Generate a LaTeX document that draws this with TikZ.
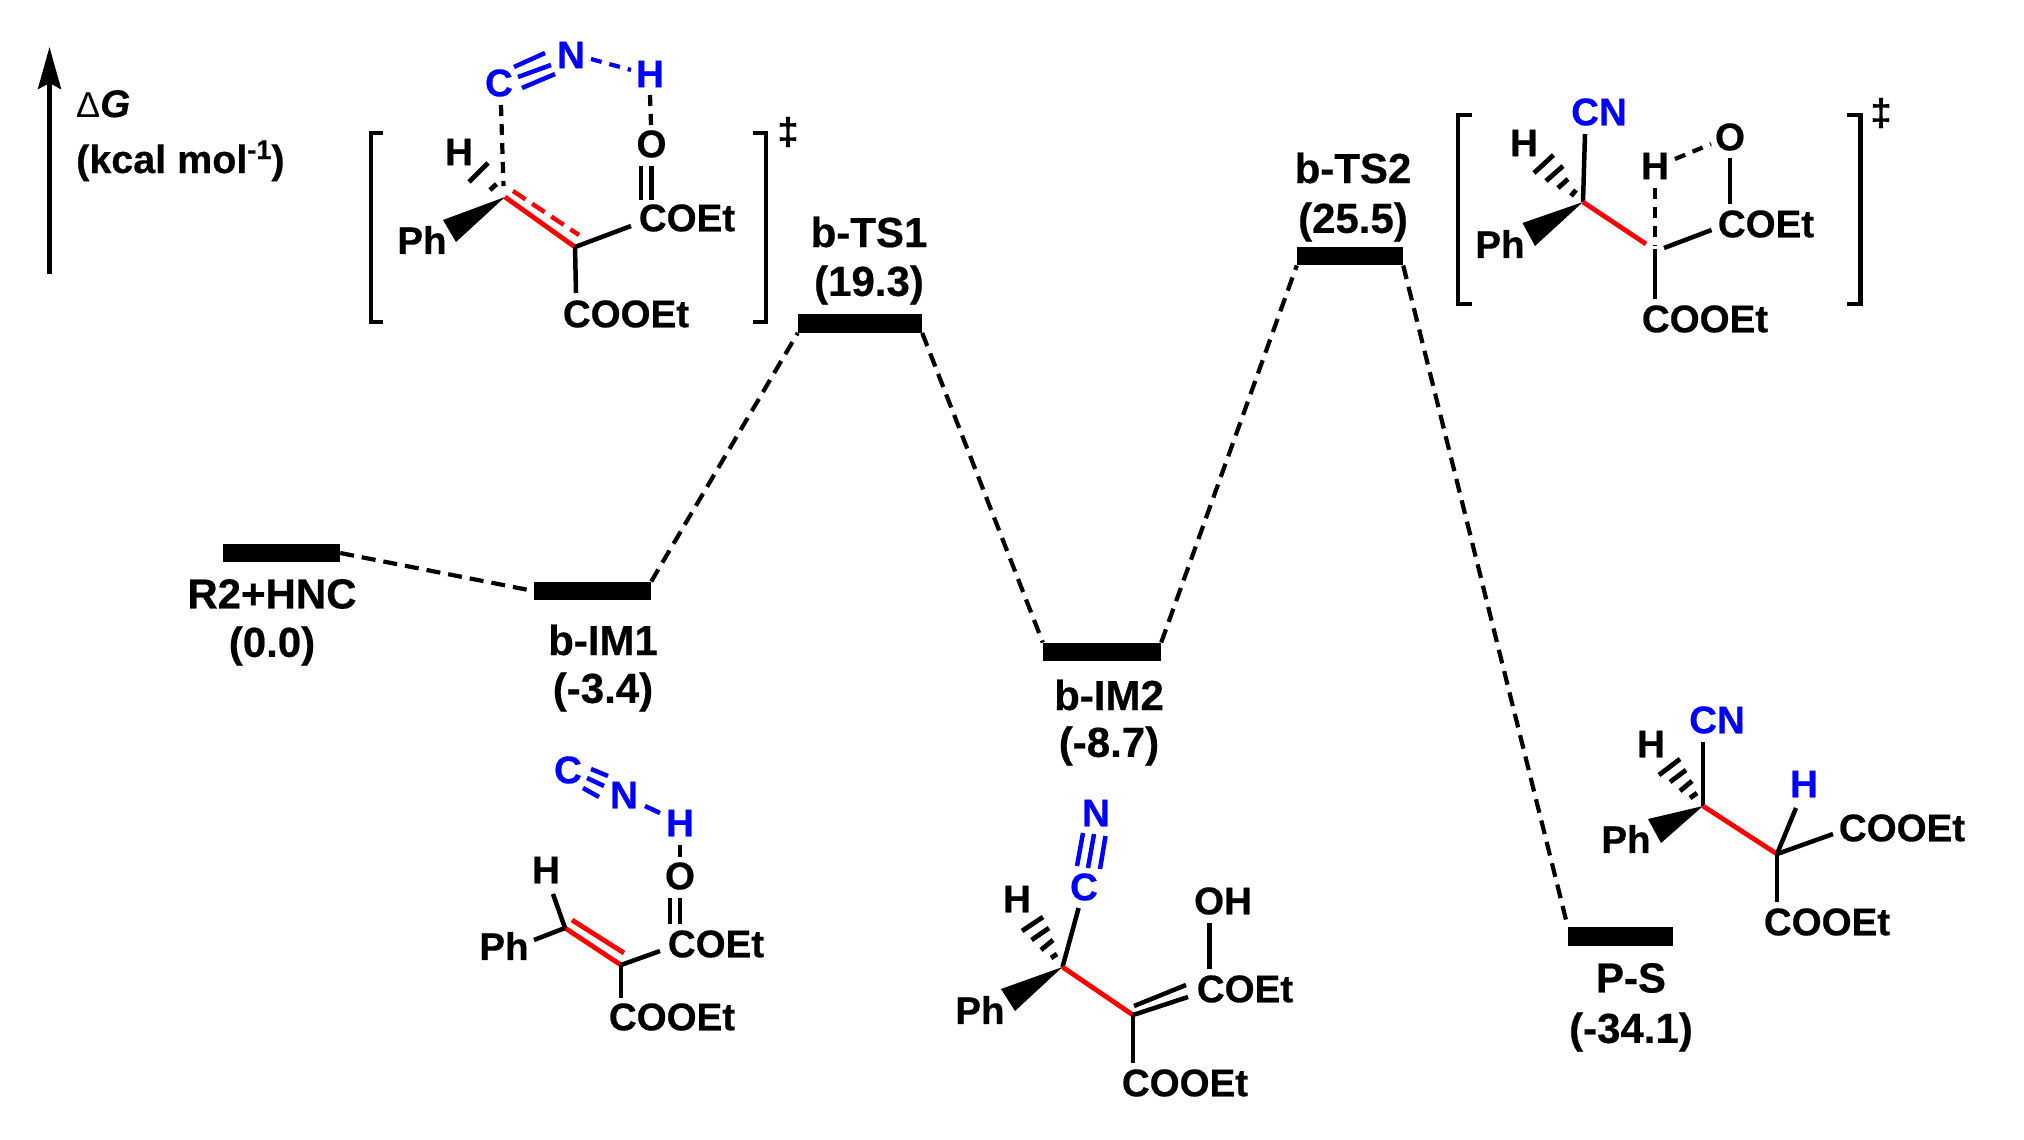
\documentclass[tikz,border=0pt]{standalone}
\usepackage{fontspec}
\setmainfont{Liberation Sans}[BoldFeatures={FakeBold=0.5},BoldItalicFeatures={FakeBold=0.5}]
\usetikzlibrary{arrows.meta}
\definecolor{cblue}{RGB}{0,0,255}
\definecolor{cred}{RGB}{255,0,0}
\tikzset{
  atom/.style={inner sep=0pt,font=\fontsize{38.5}{38.5}\selectfont\bfseries,text=black},
  blueatom/.style={atom,text=cblue},
  elabel/.style={inner sep=0pt,font=\fontsize{42}{42}\selectfont\bfseries,text=black},
  level/.style={fill=black,inner sep=0pt,minimum width=#1,minimum height=18.5pt},
  path/.style={line width=4.2pt,dash pattern=on 14pt off 8pt},
  bond/.style={line width=4.5pt,black},
  redbond/.style={line width=4.8pt,cred},
  bluebond/.style={line width=4.5pt,cblue},
  hb/.style={line width=4.2pt,black,dash pattern=on 11pt off 8pt},
  hbblue/.style={line width=4.2pt,cblue,dash pattern=on 11pt off 8pt},
  brk/.style={line width=4.8pt,black,line cap=butt,line join=miter},
  hashbond/.style={line width=4.8pt,black},
  dag/.style={inner sep=0pt,font=\fontsize{38}{38}\selectfont\bfseries,text=black}
}
\begin{document}
\begin{tikzpicture}[x=1pt,y=-1pt]
\useasboundingbox (0,0) rectangle (2024,1140);

% axis
\coordinate (axb) at (49.5,274);
\coordinate (axt) at (49.5,47);
\draw[line width=4.6pt,-{Stealth[length=42pt,width=23pt,inset=6pt]}] (axb) -- (axt);
\node[atom,anchor=base west] (dg) at (76,117) {{\mdseries\fontsize{36}{36}\selectfont Δ}{\itshape G}};
\node[atom,anchor=base west,font=\fontsize{39.5}{39.5}\selectfont\bfseries] (unit) at (76,173) {(kcal mol\raisebox{14pt}{\fontsize{27}{27}\selectfont -1})};

% levels
\node[level=117pt] (r2) at (281.5,553) {};
\node[level=117pt] (im1) at (592.5,591) {};
\node[level=124pt] (ts1) at (860,323.5) {};
\node[level=118pt] (im2) at (1102,652) {};
\node[level=106pt] (ts2) at (1350,256) {};
\node[level=105pt] (ps) at (1620.5,936.5) {};

\draw[path] (r2.east) -- (im1.west);
\draw[path] (im1.north east) -- (ts1.south west);
\draw[path] (ts1.south east) -- (im2.north west);
\draw[path] (im2.north east) -- (ts2.south west);
\draw[path] (ts2.south east) -- (ps.north west);

% level labels
\node[elabel] (r2a) at (272,594) {R2+HNC};
\node[elabel] (r2b) at (272,646) {(0.0)};
\node[elabel] (im1a) at (603,640) {b-IM1};
\node[elabel] (im1b) at (603,692) {(-3.4)};
\node[elabel] (ts1a) at (869,232) {b-TS1};
\node[elabel] (ts1b) at (869,285) {(19.3)};
\node[elabel] (im2a) at (1109,695) {b-IM2};
\node[elabel] (im2b) at (1109,746) {(-8.7)};
\node[elabel] (ts2a) at (1353,168) {b-TS2};
\node[elabel] (ts2b) at (1353,222) {(25.5)};
\node[elabel] (psa) at (1631,978) {P-S};
\node[elabel] (psb) at (1631,1032) {(-34.1)};

% ---------- TS1 structure
\node[blueatom] (ac) at (499,83) {C};
\node[blueatom] (an) at (571,55) {N};
\node[blueatom] (ah) at (650,74) {H};
\node[atom] (ao) at (651.5,144) {O};
\node[atom] (acoet) at (687,218) {COEt};
\node[atom] (acooet) at (626,314) {COOEt};
\node[atom] (aph) at (422,240) {Ph};
\node[atom] (ahh) at (459,152) {H};
\node[dag] (adag) at (788,132) {‡};
\coordinate (a1) at (505,197);
\coordinate (a2) at (575,247);
\draw[bluebond] (514,67) -- (545,53) (518,77) -- (551,65) (522,88) -- (555,74);
\draw[hbblue] (591,59) -- (631,70);
\draw[hb] (650,95) -- (651,125);
\draw[bond] (641,166) -- (641,200) (651.5,166) -- (651.5,200);
\draw[hb] (501,105) -- (503.5,186);
\draw[redbond] (a1) -- (a2);
\draw[cred,line width=4.4pt,dash pattern=on 15pt off 8pt] (513,191) -- (579,235);
\draw[bond] (a2) -- (631,226);
\draw[bond] (a2) -- (576,293);
\fill[black] (a1) -- (443,220) -- (456,242) -- cycle;
\draw[hashbond] (488,163) -- (469,182) (496.5,184) -- (490,190);
\draw[brk] (383,133) -- (371,133) -- (371,322) -- (383,322);
\draw[brk] (753,133) -- (766,133) -- (766,322) -- (753,322);

% ---------- TS2 structure
\node[blueatom] (bcn) at (1599,112) {CN};
\node[atom] (bh) at (1524,143) {H};
\node[atom] (bph) at (1500,244) {Ph};
\node[atom] (bh2) at (1655,166) {H};
\node[atom] (bo) at (1730,137) {O};
\node[atom] (bcoet) at (1766,224) {COEt};
\node[atom] (bcooet) at (1705,319) {COOEt};
\node[dag] (bdag) at (1881,113) {‡};
\coordinate (b1) at (1583,202);
\coordinate (b2) at (1655,249);
\draw[bond] (1585,134) -- (b1);
\draw[hashbond] (1553.5,155) -- (1534,173) (1563,166) -- (1546,181) (1568,179) -- (1558,188) (1576,190) -- (1571,196);
\fill[black] (b1) -- (1522.5,223) -- (1535,246) -- cycle;
\draw[redbond] (b1) -- (1646,244);
\draw[hb] (1655,188) -- (1655,246);
\draw[bond] (b2) -- (1655,299);
\draw[hb] (1675,159) -- (1711,144);
\draw[bond] (1730,158) -- (1730,204);
\draw[bond] (1664,248) -- (1711.5,230);
\draw[brk] (1472,115) -- (1458,115) -- (1458,304) -- (1472,304);
\draw[brk] (1847,115) -- (1860.5,115) -- (1860.5,304) -- (1847,304);

% ---------- IM1 structure
\node[blueatom] (cc) at (568,770) {C};
\node[blueatom] (cn) at (624,795) {N};
\node[blueatom] (chb) at (680,823) {H};
\node[atom] (co) at (680,876) {O};
\node[atom] (ccoet) at (716,944) {COEt};
\node[atom] (ccooet) at (672,1017) {COOEt};
\node[atom] (ch) at (546,870) {H};
\node[atom] (cph) at (504,946) {Ph};
\coordinate (c1) at (565,928);
\coordinate (c2) at (621,965);
\draw[bluebond] (591,769) -- (608,776) (587,778) -- (604,786) (583,788) -- (599,797);
\draw[bluebond] (645,806) -- (660,813);
\draw[bond] (680,845) -- (680,857);
\draw[bond] (670,898) -- (670,924) (680,898) -- (680,924);
\draw[redbond] (c1) -- (c2);
\draw[redbond] (572,920) -- (624,953);
\draw[bond] (c2) -- (660,951);
\draw[bond] (c2) -- (621,998);
\draw[bond] (c1) -- (553,894);
\draw[bond] (c1) -- (534,940);

% ---------- IM2 structure
\node[blueatom] (dn) at (1096,813) {N};
\node[blueatom] (dc) at (1084,887) {C};
\node[atom] (dh) at (1017,899) {H};
\node[atom] (dph) at (980,1010) {Ph};
\node[atom] (dcooet) at (1185,1083) {COOEt};
\node[atom] (dcoet) at (1245,989) {COEt};
\node[atom] (doh) at (1223,901) {OH};
\coordinate (d1) at (1062.5,967);
\coordinate (d2) at (1133,1015);
\draw[bluebond] (1083,833) -- (1077,866) (1094,834) -- (1088,868) (1105.5,836) -- (1100,869);
\draw[bond] (d1) -- (1078.6,908);
\draw[hashbond] (1043,917) -- (1022,931) (1049,928) -- (1031.5,940) (1053,940) -- (1041,950) (1057,954) -- (1051,958);
\fill[black] (d1) -- (1001,989) -- (1015,1011) -- cycle;
\draw[redbond] (d1) -- (d2);
\draw[bond] (d2) -- (1188,997) (1134,1006) -- (1186,985);
\draw[bond] (d2) -- (1133,1063);
\draw[bond] (1209.5,923) -- (1209.5,969);

% ---------- P-S structure
\node[blueatom] (ecn) at (1717,720) {CN};
\node[atom] (eh) at (1651,744) {H};
\node[atom] (eph) at (1626,839) {Ph};
\node[blueatom] (ehb) at (1804,784) {H};
\node[atom] (ecoo) at (1902,828) {COOEt};
\node[atom] (ecoob) at (1827,922) {COOEt};
\coordinate (e1) at (1703,806);
\coordinate (e2) at (1777,854);
\draw[bond] (1703,742) -- (e1);
\draw[hashbond] (1680,759) -- (1659,775) (1686,770) -- (1670,782) (1692,781) -- (1680,791) (1697,793) -- (1690,798);
\fill[black] (e1) -- (1648,819) -- (1661,843) -- cycle;
\draw[redbond] (e1) -- (e2);
\draw[bond] (e2) -- (1796,808);
\draw[bond] (e2) -- (1833,834);
\draw[bond] (e2) -- (1777,902);
\end{tikzpicture}
\end{document}
